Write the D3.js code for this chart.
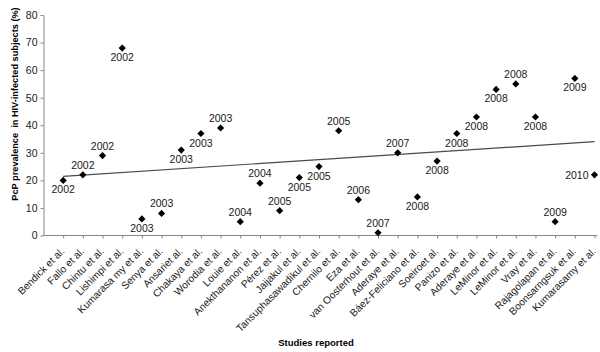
<!DOCTYPE html>
<html>
<head>
<meta charset="utf-8">
<script src="https://cdn.jsdelivr.net/npm/d3@7"></script>
<style>
    body { margin: 0; background: #fff; }
    svg { display: block; font-family: 'Liberation Sans', Arial, sans-serif; }
</style>
</head>
<body>
<svg id="chart" width="600" height="352"></svg>
<script>
// studies, in the order they are plotted along the x axis
const studies = ['Bendick et al.', 'Fallo et al.', 'Chintu et al.', 'Lishimpi et al.', 'Kumarasa my et al.',
    'Senya et al.', 'Ansariet al.', 'Chakaya et al.', 'Worodia et al.', 'Louie et al.', 'Anekthananon et al.',
    'Pérez et al.', 'Jaijakul et al.', 'Tansuphasawadikul et al.', 'Chernilo et al.', 'Eza et al.',
    'van Oosterhout et al.', 'Aderaye et al.', 'Báez-Feliciano et al.', 'Soeiroet al.', 'Panizo et al.',
    'Aderaye et al.', 'LeMinor et al.', 'LeMinor et al.', 'Vray et al.', 'Rajagolapan et al.',
    'Boonsarngsuk et al.', 'Kumarasamy et al.']
const prevalence = [20, 22, 29, 68, 6, 8, 31, 37, 39, 5, 19, 9, 21, 25, 38, 13, 1, 30, 14, 27, 37, 43, 53, 55, 43, 5, 57, 22]
const years = [2002, 2002, 2002, 2002, 2003, 2003, 2003, 2003, 2003, 2004, 2004, 2005, 2005, 2005, 2005, 2006,
    2007, 2007, 2008, 2008, 2008, 2008, 2008, 2008, 2008, 2009, 2009, 2010]
// where the year label sits: a = above, b = below, l = left
const yearSide = ['b', 'a', 'a', 'b', 'b', 'a', 'b', 'b', 'a', 'a', 'a', 'a', 'b', 'b', 'a', 'a',
    'a', 'a', 'b', 'b', 'b', 'b', 'b', 'a', 'b', 'a', 'b', 'l']
const yTicks = [0, 10, 20, 30, 40, 50, 60, 70, 80]

const data = studies.map((s, i) => ({
    idx: i + 1,
    study: s,
    value: prevalence[i],
    year: years[i],
    side: yearSide[i]
}))

const svg = d3.select('#chart')
const axisColor = '#868686'
const textColor = '#1a1a1a'

const x = d3.scaleLinear().domain([0, studies.length]).range([43.5, 594.5])
const y = d3.scaleLinear().domain([0, 80]).range([235.5, 15])

// y axis
const yAxis = svg.append('g')
    .attr('transform', 'translate(43.5,0)')
    .call(d3.axisLeft(y).tickValues(yTicks).tickSize(3).tickSizeOuter(0).tickPadding(3))
yAxis.select('.domain').attr('stroke', axisColor)
yAxis.selectAll('.tick line').attr('stroke', axisColor)
yAxis.selectAll('.tick text')
    .attr('fill', textColor)
    .style('font-size', '10.5px')
    .style('font-family', "'Liberation Sans', Arial, sans-serif")

// x axis
const xAxis = svg.append('g')
    .attr('transform', 'translate(0,235.5)')
    .call(d3.axisBottom(x)
        .tickValues(d3.range(1, studies.length + 1))
        .tickSize(3)
        .tickSizeOuter(0)
        .tickFormat(d => studies[d - 1]))
xAxis.select('.domain').attr('stroke', axisColor).attr('d', 'M43.5,0H597.5')
xAxis.selectAll('.tick line').attr('stroke', axisColor)
xAxis.selectAll('.tick text')
    .attr('fill', textColor)
    .style('font-size', '10.2px')
    .style('font-family', "'Liberation Sans', Arial, sans-serif")
    .attr('text-anchor', 'end')
    .attr('x', 0)
    .attr('y', 0)
    .attr('dy', 0)
    .attr('transform', 'translate(1.5,16.5) rotate(-45)')

// linear trend line (least squares over the plotted points)
const mx = d3.mean(data, d => d.idx)
const my = d3.mean(data, d => d.value)
const slope = d3.sum(data, d => (d.idx - mx) * (d.value - my)) / d3.sum(data, d => (d.idx - mx) ** 2)
const trend = i => my + slope * (i - mx)
const first = data[0].idx, last = data[data.length - 1].idx
svg.append('line')
    .attr('x1', x(first)).attr('y1', y(trend(first)))
    .attr('x2', x(last)).attr('y2', y(trend(last)))
    .attr('stroke', '#4a4a4a')
    .attr('stroke-width', 1.2)

// diamond markers
const r = 3.6
svg.selectAll('.pt')
    .data(data)
    .enter().append('path')
    .attr('class', 'pt')
    .attr('d', d => {
        const cx = x(d.idx), cy = y(d.value)
        return `M${cx},${cy - r}L${cx + r},${cy}L${cx},${cy + r}L${cx - r},${cy}Z`
    })
    .attr('fill', '#000')

// year labels
svg.selectAll('.yr')
    .data(data)
    .enter().append('text')
    .attr('class', 'yr')
    .attr('x', d => d.side === 'l' ? x(d.idx) - 6 : x(d.idx))
    .attr('y', d => {
        if (d.side === 'a') return y(d.value) - 6
        if (d.side === 'b') return y(d.value) + 13
        return y(d.value) + 3.7
    })
    .attr('text-anchor', d => d.side === 'l' ? 'end' : 'middle')
    .attr('fill', textColor)
    .style('font-size', '10.5px')
    .text(d => d.year)

// axis titles
svg.append('text')
    .attr('transform', 'translate(18,104) rotate(-90)')
    .attr('text-anchor', 'middle')
    .attr('fill', '#000')
    .style('font-size', '9.2px')
    .style('font-weight', 'bold')
    .style('white-space', 'pre')
    .text('PcP prevalence  in HIV-infected subjects (%)')

svg.append('text')
    .attr('x', 316)
    .attr('y', 346)
    .attr('text-anchor', 'middle')
    .attr('fill', '#000')
    .style('font-size', '9.5px')
    .style('font-weight', 'bold')
    .text('Studies reported')
</script>
</body>
</html>
